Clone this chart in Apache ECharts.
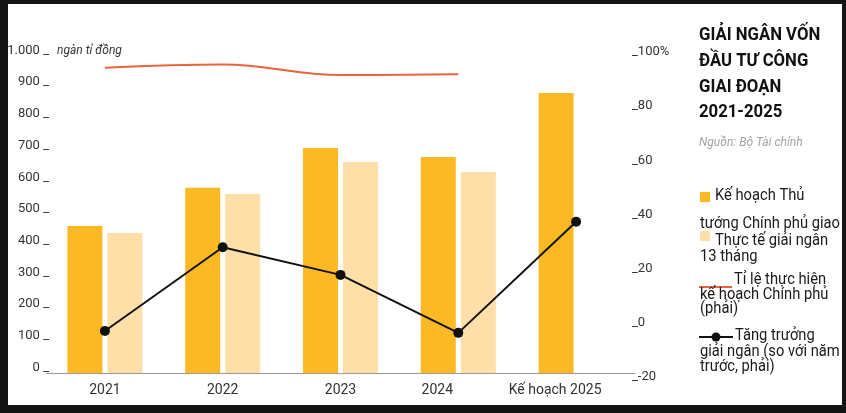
<!DOCTYPE html>
<html>
<head>
<meta charset="utf-8">
<script src="https://cdn.jsdelivr.net/npm/echarts@6/dist/echarts.min.js"></script>
<style>
  html, body { margin: 0; padding: 0; background: #141414; width: 846px; height: 413px; overflow: hidden; }
  #panel { position: absolute; left: 8px; top: 4px; width: 834px; height: 401px; background: #ffffff; }
  #chart { position: absolute; left: 0; top: 0; width: 846px; height: 413px; }
</style>
</head>
<body>
<div id="panel"></div>
<div id="chart"></div>
<script>
// ---- data ----
const categories = ['2021', '2022', '2023', '2024', 'Kế hoạch 2025'];
const planValues = [464, 584, 710, 681, 883];          // Kế hoạch Thủ tướng Chính phủ giao (ngàn tỉ đồng)
const actualValues = [442, 565, 666, 634, null];       // Thực tế giải ngân 13 tháng
const ratioValues = [94.2, 95.4, 91.5, 91.8, null];    // Tỉ lệ thực hiện kế hoạch (%), phải
const growthValues = [-3.0, 27.9, 17.7, -3.7, 37.3];   // Tăng trưởng giải ngân (%), phải
const leftTickValues = [0, 100, 200, 300, 400, 500, 600, 700, 800, 900, 1000];
const leftTickLabels = ['0', '100', '200', '300', '400', '500', '600', '700', '800', '900', '1.000'];
const rightTickValues = [-20, 0, 20, 40, 60, 80, 100];
const rightTickLabels = ['-20', '0', '20', '40', '60', '80', '100%'];

const shiftedLabels = ['2024', 'Kế hoạch 2025'];

const GOLD = '#FBBA24';
const LIGHT = '#FDDFA7';
const ORANGE = '#E8653C';
const BLACK = '#111111';
const TXT = '#333333';
const FONT = 'Roboto, "Noto Sans", sans-serif';

const chart = echarts.init(document.getElementById('chart'), null, { renderer: 'canvas' });

function legendText(x, y, s) {
  return { type: 'text', x: x, y: y, scaleX: 0.92, style: { text: s, fill: '#1a1a1a', font: '16px ' + FONT, verticalAlign: 'middle' } };
}

const option = {
  animation: false,
  backgroundColor: 'transparent',
  grid: [
    { left: 46, width: 589, top: 56, height: 317 },
    { left: 46, width: 589, top: 52, height: 325 }
  ],
  xAxis: [
    {
      type: 'category', gridIndex: 0, data: categories,
      axisLine: { show: true, lineStyle: { color: '#9a9a9a', width: 1 } },
      axisTick: { show: false },
      axisLabel: {
        interval: 0, margin: 10, color: TXT, fontSize: 14, fontFamily: FONT,
        formatter: function (v) { return shiftedLabels.indexOf(v) >= 0 ? '{s|' + v + '}' : v; },
        rich: { s: { padding: [0, 42, 0, 0], color: TXT, fontSize: 14, fontFamily: FONT } }
      }
    },
    {
      type: 'category', gridIndex: 1, data: categories, show: false
    }
  ],
  yAxis: [
    {
      type: 'value', gridIndex: 0, min: 0, max: 1000, interval: 100, position: 'left',
      axisLine: { show: false }, axisTick: { show: false }, splitLine: { show: false },
      axisLabel: {
        margin: -3, color: TXT, fontSize: 13, fontFamily: FONT, verticalAlign: 'bottom', lineHeight: 11,
        formatter: function (v) { const i = leftTickValues.indexOf(v); return (i >= 0 ? leftTickLabels[i] : v) + ' _'; }
      }
    },
    {
      type: 'value', gridIndex: 1, min: -20, max: 100, interval: 20, position: 'right',
      axisLine: { show: false }, axisTick: { show: false }, splitLine: { show: false },
      axisLabel: {
        margin: -3, color: TXT, fontSize: 13, fontFamily: FONT, verticalAlign: 'middle',
        formatter: function (v) { const i = rightTickValues.indexOf(v); return '_' + (i >= 0 ? rightTickLabels[i] : v); }
      }
    }
  ],
  series: [
    {
      name: 'Kế hoạch Thủ tướng Chính phủ giao', type: 'bar', xAxisIndex: 0, yAxisIndex: 0,
      data: planValues, barWidth: 35, barGap: '14.3%', itemStyle: { color: GOLD }
    },
    {
      name: 'Thực tế giải ngân 13 tháng', type: 'bar', xAxisIndex: 0, yAxisIndex: 0,
      data: actualValues, barWidth: 35, barGap: '14.3%', itemStyle: { color: LIGHT }
    },
    {
      name: 'Tỉ lệ thực hiện kế hoạch Chính phủ (phải)', type: 'line', xAxisIndex: 1, yAxisIndex: 1,
      data: ratioValues, smooth: 0.4, showSymbol: false, symbol: 'none',
      lineStyle: { color: ORANGE, width: 2 }, z: 5
    },
    {
      name: 'Tăng trưởng giải ngân (so với năm trước, phải)', type: 'line', xAxisIndex: 1, yAxisIndex: 1,
      data: growthValues, symbol: 'circle', symbolSize: 10,
      itemStyle: { color: BLACK }, lineStyle: { color: BLACK, width: 2 }, z: 6
    }
  ],
  graphic: [
    // unit note
    { type: 'text', x: 57, y: 51, style: { text: 'ngàn tỉ đồng', fill: TXT, font: 'italic 12px ' + FONT, verticalAlign: 'middle' } },
    // title
    { type: 'text', x: 699, y: 35, scaleX: 0.88, style: { text: 'GIẢI NGÂN VỐN', fill: '#111', font: 'bold 19px ' + FONT, verticalAlign: 'middle' } },
    { type: 'text', x: 699, y: 61, scaleX: 0.88, style: { text: 'ĐẦU TƯ CÔNG', fill: '#111', font: 'bold 19px ' + FONT, verticalAlign: 'middle' } },
    { type: 'text', x: 699, y: 87, scaleX: 0.88, style: { text: 'GIAI ĐOẠN', fill: '#111', font: 'bold 19px ' + FONT, verticalAlign: 'middle' } },
    { type: 'text', x: 699, y: 112, scaleX: 0.88, style: { text: '2021-2025', fill: '#111', font: 'bold 19px ' + FONT, verticalAlign: 'middle' } },
    // source
    { type: 'text', x: 699, y: 143, style: { text: 'Nguồn: Bộ Tài chính', fill: '#a3a3a3', font: 'italic 12px ' + FONT, verticalAlign: 'middle' } },
    // legend 1
    { type: 'rect', shape: { x: 700, y: 192, width: 10, height: 10 }, style: { fill: GOLD } },
    legendText(715, 196, 'Kế hoạch Thủ'),
    legendText(700, 224, 'tướng Chính phủ giao'),
    // legend 2
    { type: 'rect', shape: { x: 700, y: 231, width: 10, height: 10 }, style: { fill: LIGHT } },
    legendText(715, 241, 'Thực tế giải ngân'),
    legendText(700, 257, '13 tháng'),
    // legend 3
    { type: 'line', shape: { x1: 699, y1: 287, x2: 732, y2: 287 }, style: { stroke: ORANGE, lineWidth: 2 } },
    legendText(734, 280, 'Tỉ lệ thực hiện'),
    legendText(700, 295, 'kế hoạch Chính phủ'),
    legendText(700, 309, '(phải)'),
    // legend 4
    { type: 'line', shape: { x1: 699, y1: 337, x2: 733, y2: 337 }, style: { stroke: BLACK, lineWidth: 2 } },
    { type: 'circle', shape: { cx: 716, cy: 337, r: 4.5 }, style: { fill: BLACK } },
    legendText(735, 336, 'Tăng trưởng'),
    legendText(700, 352, 'giải ngân (so với năm'),
    legendText(700, 367, 'trước, phải)')
  ]
};

chart.setOption(option);
</script>
</body>
</html>
